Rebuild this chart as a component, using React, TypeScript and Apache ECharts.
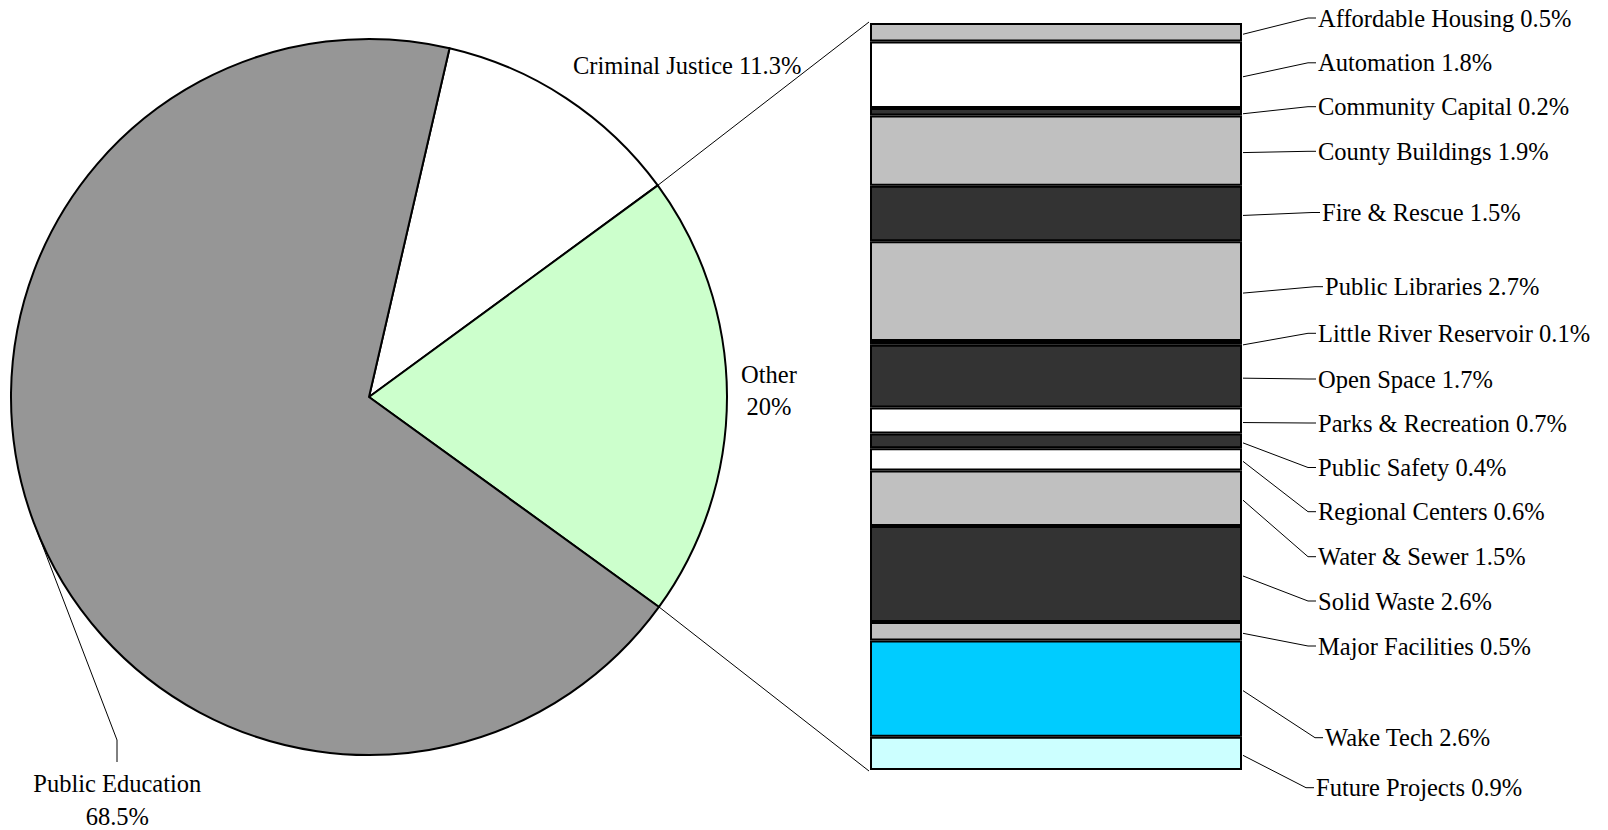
import React, { useEffect, useRef } from 'react';
import * as echarts from 'echarts';

// ---- Data ----
const PIE_NAMES = ['Criminal Justice', 'Other', 'Public Education'];
const PIE_VALUES = [11.3, 20, 68.5];
const PIE_COLORS = ['#FFFFFF', '#CCFFCC', '#969696'];

const OTHER_NAMES = [
  'Affordable Housing', 'Automation', 'Community Capital', 'County Buildings',
  'Fire & Rescue', 'Public Libraries', 'Little River Reservoir', 'Open Space',
  'Parks & Recreation', 'Public Safety', 'Regional Centers', 'Water & Sewer',
  'Solid Waste', 'Major Facilities', 'Wake Tech', 'Future Projects',
];
const OTHER_VALUES = [0.5, 1.8, 0.2, 1.9, 1.5, 2.7, 0.1, 1.7, 0.7, 0.4, 0.6, 1.5, 2.6, 0.5, 2.6, 0.9];
const OTHER_COLORS = [
  '#C0C0C0', '#FFFFFF', '#333333', '#C0C0C0', '#333333', '#C0C0C0', '#FFFFFF', '#333333',
  '#FFFFFF', '#333333', '#FFFFFF', '#C0C0C0', '#333333', '#C0C0C0', '#00CCFF', '#CCFFFF',
];

// ---- Layout (pixels) ----
const FONT = 'Liberation Serif';
const FONT_SIZE = 24.5;
const PIE_CENTER = [369, 397];
const PIE_RADIUS = 358;
const START_ANGLE = 77;
const BAR = { left: 870, top: 23, width: 372, height: 747 };
const LABEL_Y = [18, 62.8, 106.7, 151.3, 212.5, 286.7, 333.3, 379, 423, 467.5, 511.7, 556.7, 601, 646, 737.7, 787.7];
const LABEL_X = [1318, 1318, 1318, 1318, 1322, 1325, 1318, 1318, 1318, 1318, 1318, 1318, 1318, 1318, 1325, 1316];
const CJ_LABEL = { x: 573, y: 65.5 };
const OTHER_LABEL = { x: 769, y: 390, lh: 32 };
const PE_LABEL = { x: 117.3, y: 799.5, lh: 33 };
const PE_ELBOW = [117, 740];
const PE_END = [117, 762];

export default function App() {
  const ref = useRef<HTMLDivElement>(null);

  useEffect(() => {
    if (!ref.current) return;
    const chart = echarts.init(ref.current, undefined, { renderer: 'svg' });

    const pieTotal = PIE_VALUES.reduce((a, b) => a + b, 0);
    const otherTotal = OTHER_VALUES.reduce((a, b) => a + b, 0);
    const a0 = 90 - START_ANGLE; // clockwise from top
    const b1 = a0 + (PIE_VALUES[0] / pieTotal) * 360;
    const b2 = b1 + (PIE_VALUES[1] / pieTotal) * 360;
    const peMid = b2 + (PIE_VALUES[2] / pieTotal) * 180;
    const pt = (deg: number) => {
      const r = (deg * Math.PI) / 180;
      return [PIE_CENTER[0] + PIE_RADIUS * Math.sin(r), PIE_CENTER[1] - PIE_RADIUS * Math.cos(r)];
    };
    const p1 = pt(b1);
    const p2 = pt(b2);
    const pm = pt(peMid);

    let acc = 0;
    const centers = OTHER_VALUES.map((v) => {
      const c = acc + v / 2;
      acc += v;
      return c;
    });

    const textStyle = (text: string, x: number, y: number, align: string, lh?: number) => ({
      text, x, y,
      fontFamily: FONT, fontSize: FONT_SIZE, fill: '#000',
      align, textAlign: align, verticalAlign: 'middle', textVerticalAlign: 'middle',
      lineHeight: lh,
    });

    const barSeries = OTHER_NAMES.map((name, i) => ({
      name,
      type: 'bar',
      stack: 'other',
      xAxisIndex: 0,
      yAxisIndex: 0,
      barWidth: '100%',
      silent: true,
      data: [OTHER_VALUES[i]],
      itemStyle: { color: OTHER_COLORS[i], borderColor: '#000', borderWidth: 2 },
      label: { show: false },
    }));

    const option: any = {
      animation: false,
      backgroundColor: '#FFFFFF',
      grid: [{ left: BAR.left, top: BAR.top, width: BAR.width, height: BAR.height, containLabel: false }],
      xAxis: [{ type: 'category', data: ['Other'], show: false, gridIndex: 0 }],
      yAxis: [{ type: 'value', min: 0, max: otherTotal, inverse: true, show: false, gridIndex: 0 }],
      series: [
        {
          type: 'pie',
          center: PIE_CENTER,
          radius: PIE_RADIUS,
          startAngle: START_ANGLE,
          clockwise: true,
          silent: true,
          label: { show: false },
          labelLine: { show: false },
          itemStyle: { borderColor: '#000', borderWidth: 2 },
          data: PIE_NAMES.map((n, i) => ({ name: n, value: PIE_VALUES[i], itemStyle: { color: PIE_COLORS[i] } })),
        },
        ...barSeries,
        {
          type: 'custom',
          xAxisIndex: 0,
          yAxisIndex: 0,
          silent: true,
          z: 5,
          data: OTHER_VALUES.map((v, i) => [0, centers[i], v]),
          renderItem: (params: any, api: any) => {
            const i = params.dataIndex;
            const y = api.coord([0, api.value(1)])[1] + 2;
            const cs = params.coordSys;
            const right = cs.x + cs.width + 1;
            const tx = LABEL_X[i];
            const ty = LABEL_Y[i];
            return {
              type: 'group',
              children: [
                {
                  type: 'polyline',
                  shape: { points: [[right, y], [tx - 10, ty], [tx - 2, ty]] },
                  style: { stroke: '#000', lineWidth: 1, fill: null },
                },
                {
                  type: 'text',
                  style: textStyle(`${OTHER_NAMES[i]} ${api.value(2)}%`, tx, ty, 'left'),
                },
              ],
            };
          },
        },
      ],
      graphic: [
        {
          type: 'line', silent: true,
          shape: { x1: p1[0], y1: p1[1], x2: BAR.left - 1, y2: BAR.top - 1 },
          style: { stroke: '#000', lineWidth: 1 },
        },
        {
          type: 'line', silent: true,
          shape: { x1: p2[0], y1: p2[1], x2: BAR.left - 1, y2: BAR.top + BAR.height + 1 },
          style: { stroke: '#000', lineWidth: 1 },
        },
        {
          type: 'polyline', silent: true,
          shape: { points: [pm, PE_ELBOW, PE_END] },
          style: { stroke: '#000', lineWidth: 1, fill: null },
        },
        {
          type: 'text', silent: true,
          style: textStyle(`${PIE_NAMES[0]} ${PIE_VALUES[0]}%`, CJ_LABEL.x, CJ_LABEL.y, 'left'),
        },
        {
          type: 'text', silent: true,
          style: textStyle(`${PIE_NAMES[1]}\n${PIE_VALUES[1]}%`, OTHER_LABEL.x, OTHER_LABEL.y, 'center', OTHER_LABEL.lh),
        },
        {
          type: 'text', silent: true,
          style: textStyle(`${PIE_NAMES[2]}\n${PIE_VALUES[2]}%`, PE_LABEL.x, PE_LABEL.y, 'center', PE_LABEL.lh),
        },
      ],
    };

    chart.setOption(option);
    return () => chart.dispose();
  }, []);

  return (
    <div
      ref={ref}
      style={{ position: 'absolute', left: 0, top: 0, width: 1608, height: 830 }}
    />
  );
}
